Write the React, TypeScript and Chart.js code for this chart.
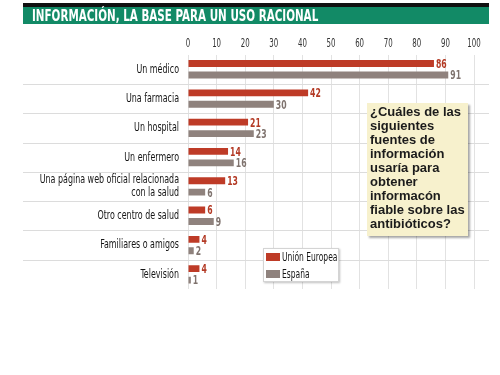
import React, { useEffect, useRef } from "react";
import { Chart, registerables } from "chart.js";

Chart.register(...registerables);

const categories: (string | string[])[] = [
  "Un médico",
  "Una farmacia",
  "Un hospital",
  "Un enfermero",
  ["Una página web oficial relacionada", "con la salud"],
  "Otro centro de salud",
  "Familiares o amigos",
  "Televisión",
];
const seriesNames = ["Unión Europea", "España"];
const ueValues = [86, 42, 21, 14, 13, 6, 4, 4];
const esValues = [91, 30, 23, 16, 6, 9, 2, 1];
const xMin = 0;
const xMax = 100;
const xStep = 10;
const title = "INFORMACIÓN, LA BASE PARA UN USO RACIONAL";
const questionLines = [
  "¿Cuáles de las",
  "siguientes",
  "fuentes de",
  "información",
  "usaría para",
  "obtener",
  "informacón",
  "fiable sobre las",
  "antibióticos?",
];

const RED = "#be3b27";
const GRAY = "#8f827d";
const RED_TEXT = "#b33a25";
const GRAY_TEXT = "#7f736e";
const NARROW = '"DejaVu Sans Condensed", "Liberation Sans", sans-serif';
const X_SQUEEZE = 0.6;
const Y_SQUEEZE = 0.68;
const VAL_SQUEEZE = 0.66;

function withSqueeze(ctx: any, sx: number, fn: () => void) {
  const orig = ctx.fillText;
  ctx.fillText = function (t: string, x: number, y: number) {
    this.save();
    this.translate(x, y);
    this.scale(sx, 1);
    orig.call(this, t, 0, 0);
    this.restore();
  };
  try {
    fn();
  } finally {
    ctx.fillText = orig;
  }
}

const squeezePlugin = {
  id: "squeeze",
  beforeDraw(chart: any) {
    const pairs: [string, number][] = [
      ["x", X_SQUEEZE],
      ["y", Y_SQUEEZE],
    ];
    for (const [id, sx] of pairs) {
      const s = chart.scales[id];
      if (s && !s.__squeezed) {
        const orig = s.drawLabels.bind(s);
        s.drawLabels = (area: any) => withSqueeze(chart.ctx, sx, () => orig(area));
        s.__squeezed = true;
      }
    }
  },
};

const separatorPlugin = {
  id: "separators",
  beforeDatasetsDraw(chart: any) {
    const y = chart.scales.y;
    const ctx = chart.ctx;
    ctx.save();
    ctx.strokeStyle = "#dcdcdc";
    ctx.lineWidth = 1;
    for (let i = 0; i < categories.length - 1; i++) {
      const py = Math.round((y.getPixelForValue(i) + y.getPixelForValue(i + 1)) / 2) + 0.5;
      ctx.beginPath();
      ctx.moveTo(23, py);
      ctx.lineTo(489, py);
      ctx.stroke();
    }
    ctx.restore();
  },
};

const valueLabelPlugin = {
  id: "valueLabels",
  afterDatasetsDraw(chart: any) {
    const ctx = chart.ctx;
    const colors = [RED_TEXT, GRAY_TEXT];
    ctx.save();
    ctx.font = `bold 13px ${NARROW}`;
    ctx.textBaseline = "middle";
    ctx.textAlign = "left";
    withSqueeze(ctx, VAL_SQUEEZE, () => {
      chart.data.datasets.forEach((ds: any, di: number) => {
        const meta = chart.getDatasetMeta(di);
        meta.data.forEach((bar: any, i: number) => {
          ctx.fillStyle = colors[di];
          ctx.fillText(String(ds.data[i]), bar.x + 2, bar.y + 1);
        });
      });
    });
    ctx.restore();
  },
};

export default function App() {
  const ref = useRef<HTMLCanvasElement | null>(null);

  useEffect(() => {
    if (!ref.current) return;
    const chart = new Chart(ref.current, {
      type: "bar",
      data: {
        labels: categories,
        datasets: [
          { label: seriesNames[0], data: ueValues, backgroundColor: RED, categoryPercentage: 0.78, barPercentage: 0.6 },
          { label: seriesNames[1], data: esValues, backgroundColor: GRAY, categoryPercentage: 0.78, barPercentage: 0.6 },
        ],
      },
      options: {
        indexAxis: "y",
        responsive: false,
        animation: false,
        devicePixelRatio: 1,
        layout: { padding: { top: 33, right: 26, bottom: 86, left: 0 } },
        plugins: { legend: { display: false }, tooltip: { enabled: false }, title: { display: false } },
        scales: {
          x: {
            position: "top",
            min: xMin,
            max: xMax,
            ticks: { stepSize: xStep, color: "#333", font: { family: NARROW, size: 13 }, padding: 3 },
            grid: { color: "#e2e2e2", drawTicks: false },
            border: { display: false },
          },
          y: {
            grid: { display: false, drawTicks: false },
            border: { display: false },
            ticks: {
              color: "#161616",
              font: { family: NARROW, size: 13, lineHeight: 1.0 },
              padding: 9,
              autoSkip: false,
            },
            afterFit: (s: any) => {
              s.width = 188;
            },
          },
        },
      },
      plugins: [squeezePlugin, separatorPlugin, valueLabelPlugin],
    } as any);
    return () => chart.destroy();
  }, []);

  return (
    <div style={{ position: "fixed", left: 0, top: 0, width: 500, height: 375, background: "#fff", overflow: "hidden" }}>
      <canvas ref={ref} width={500} height={375} style={{ position: "absolute", left: 0, top: 0 }} />
      <div style={{ position: "absolute", left: 23, top: 3, width: 466, height: 4, background: "#111" }} />
      <div style={{ position: "absolute", left: 23, top: 7, width: 466, height: 17, background: "#128a66" }} />
      <div
        style={{
          position: "absolute",
          left: 32,
          top: 7,
          height: 17,
          lineHeight: "17px",
          color: "#fff",
          fontFamily: NARROW,
          fontWeight: "bold",
          fontSize: 16,
          whiteSpace: "nowrap",
          transform: "scaleX(0.72)",
          transformOrigin: "left center",
        }}
      >
        {title}
      </div>
      <div
        style={{
          position: "absolute",
          left: 367,
          top: 103,
          width: 101,
          height: 133,
          boxSizing: "border-box",
          background: "#f7f1cd",
          boxShadow: "2px 2px 2px rgba(0,0,0,0.35)",
          padding: "2px 0 0 3px",
          fontFamily: '"Liberation Sans", Arial, sans-serif',
          fontWeight: "bold",
          fontSize: 13,
          lineHeight: "14px",
          color: "#1b1b1b",
          whiteSpace: "nowrap",
        }}
      >
        {questionLines.map((l, i) => (
          <div key={i}>{l}</div>
        ))}
      </div>
      <div
        style={{
          position: "absolute",
          left: 263,
          top: 248,
          width: 76,
          height: 34,
          boxSizing: "border-box",
          background: "#fff",
          border: "1px solid #d4d4d4",
          boxShadow: "1px 1px 2px rgba(0,0,0,0.25)",
          fontFamily: NARROW,
          fontSize: 12,
          color: "#161616",
        }}
      >
        {seriesNames.map((n, i) => (
          <div key={i} style={{ position: "absolute", left: 2, top: 3 + i * 17, height: 10, display: "flex", alignItems: "center", whiteSpace: "nowrap" }}>
            <span style={{ display: "inline-block", width: 14, height: 8, background: i === 0 ? RED : GRAY, marginRight: 2, flex: "none" }} />
            <span style={{ lineHeight: "10px", display: "inline-block", transform: "scaleX(0.7)", transformOrigin: "left center" }}>{n}</span>
          </div>
        ))}
      </div>
    </div>
  );
}
